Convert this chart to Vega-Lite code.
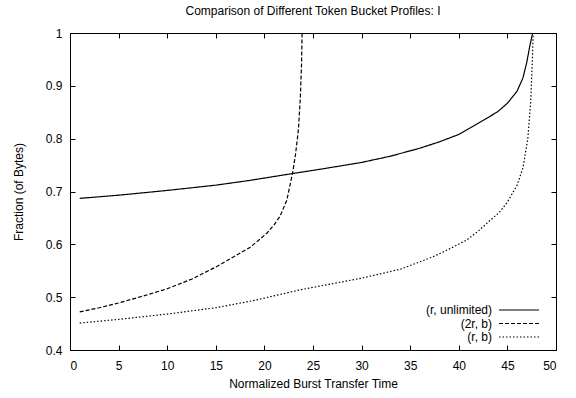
{
  "$schema": "https://vega.github.io/schema/vega-lite/v6.json",
  "width": 486,
  "height": 317,
  "autosize": {"type": "none"},
  "padding": {"left": 70, "top": 33, "right": 20, "bottom": 48},
  "title": {"text": "Comparison of Different Token Bucket Profiles: I", "fontSize": 12, "fontWeight": "normal", "font": "Liberation Sans", "offset": 9, "color": "#000"},
  "config": {
    "view": {"stroke": "#000", "strokeWidth": 1},
    "axis": {"grid": false, "labelFont": "Liberation Sans", "titleFont": "Liberation Sans", "labelFontSize": 12, "titleFontSize": 12, "titleFontWeight": "normal", "labelColor": "#000", "titleColor": "#000", "domainColor": "#000", "tickColor": "#000", "tickSize": -5, "labelPadding": 15},
    "legend": {"orient": "none", "legendX": 443, "legendY": 271, "symbolType": "M-4,0H4", "symbolSize": 100, "symbolStrokeWidth": 1.2, "symbolStrokeColor": "#000", "labelAlign": "right", "labelOffset": -33, "labelFont": "Liberation Sans", "labelFontSize": 12, "labelColor": "#000", "rowPadding": 1.5}
  },
  "data": {"values": [
    {"s": "(r, unlimited)", "x": 1, "y": 0.687},
    {"s": "(r, unlimited)", "x": 5, "y": 0.693},
    {"s": "(r, unlimited)", "x": 10, "y": 0.702},
    {"s": "(r, unlimited)", "x": 15, "y": 0.712},
    {"s": "(r, unlimited)", "x": 18.5, "y": 0.721},
    {"s": "(r, unlimited)", "x": 22.9, "y": 0.734},
    {"s": "(r, unlimited)", "x": 25.7, "y": 0.742},
    {"s": "(r, unlimited)", "x": 30, "y": 0.755},
    {"s": "(r, unlimited)", "x": 33, "y": 0.767},
    {"s": "(r, unlimited)", "x": 36, "y": 0.782},
    {"s": "(r, unlimited)", "x": 38, "y": 0.794},
    {"s": "(r, unlimited)", "x": 40, "y": 0.808},
    {"s": "(r, unlimited)", "x": 42, "y": 0.829},
    {"s": "(r, unlimited)", "x": 44, "y": 0.851},
    {"s": "(r, unlimited)", "x": 45, "y": 0.867},
    {"s": "(r, unlimited)", "x": 46, "y": 0.89},
    {"s": "(r, unlimited)", "x": 46.6, "y": 0.915},
    {"s": "(r, unlimited)", "x": 47, "y": 0.945},
    {"s": "(r, unlimited)", "x": 47.3, "y": 0.975},
    {"s": "(r, unlimited)", "x": 47.6, "y": 1.0},
    {"s": "(2r, b)", "x": 1, "y": 0.472},
    {"s": "(2r, b)", "x": 3, "y": 0.48},
    {"s": "(2r, b)", "x": 5, "y": 0.489},
    {"s": "(2r, b)", "x": 7.5, "y": 0.502},
    {"s": "(2r, b)", "x": 10, "y": 0.516},
    {"s": "(2r, b)", "x": 12.5, "y": 0.534},
    {"s": "(2r, b)", "x": 15, "y": 0.557},
    {"s": "(2r, b)", "x": 17, "y": 0.578},
    {"s": "(2r, b)", "x": 18.5, "y": 0.594},
    {"s": "(2r, b)", "x": 19.5, "y": 0.609},
    {"s": "(2r, b)", "x": 20.3, "y": 0.622},
    {"s": "(2r, b)", "x": 21, "y": 0.637},
    {"s": "(2r, b)", "x": 21.6, "y": 0.653},
    {"s": "(2r, b)", "x": 22.3, "y": 0.683},
    {"s": "(2r, b)", "x": 22.9, "y": 0.735},
    {"s": "(2r, b)", "x": 23.2, "y": 0.77},
    {"s": "(2r, b)", "x": 23.5, "y": 0.817},
    {"s": "(2r, b)", "x": 23.7, "y": 0.879},
    {"s": "(2r, b)", "x": 23.82, "y": 0.94},
    {"s": "(2r, b)", "x": 23.88, "y": 1.0},
    {"s": "(r, b)", "x": 1, "y": 0.451},
    {"s": "(r, b)", "x": 5, "y": 0.458},
    {"s": "(r, b)", "x": 10, "y": 0.468},
    {"s": "(r, b)", "x": 15, "y": 0.48},
    {"s": "(r, b)", "x": 19, "y": 0.494},
    {"s": "(r, b)", "x": 23.7, "y": 0.514},
    {"s": "(r, b)", "x": 30, "y": 0.536},
    {"s": "(r, b)", "x": 34, "y": 0.553},
    {"s": "(r, b)", "x": 37.3, "y": 0.576},
    {"s": "(r, b)", "x": 39, "y": 0.591},
    {"s": "(r, b)", "x": 40.8, "y": 0.608},
    {"s": "(r, b)", "x": 42, "y": 0.625},
    {"s": "(r, b)", "x": 43.2, "y": 0.645},
    {"s": "(r, b)", "x": 44.2, "y": 0.661},
    {"s": "(r, b)", "x": 45, "y": 0.68},
    {"s": "(r, b)", "x": 46, "y": 0.712},
    {"s": "(r, b)", "x": 46.6, "y": 0.745},
    {"s": "(r, b)", "x": 47.1, "y": 0.8},
    {"s": "(r, b)", "x": 47.4, "y": 0.87},
    {"s": "(r, b)", "x": 47.55, "y": 0.94},
    {"s": "(r, b)", "x": 47.65, "y": 1.0}
  ]},
  "layer": [
    {
      "mark": {"type": "line", "color": "#000", "strokeWidth": 1.2},
      "encoding": {
        "x": {"field": "x", "type": "quantitative", "scale": {"domain": [0, 50], "nice": false}, "axis": {"orient": "bottom", "values": [0,5,10,15,20,25,30,35,40,45,50], "title": "Normalized Burst Transfer Time", "labelPadding": 15, "titlePadding": 7}},
        "y": {"field": "y", "type": "quantitative", "scale": {"domain": [0.4, 1], "nice": false, "zero": false}, "axis": {"orient": "left", "values": [0.4,0.5,0.6,0.7,0.8,0.9,1], "format": "~g", "title": "Fraction (of Bytes)", "labelPadding": 13, "titlePadding": 20}},
        "strokeDash": {"field": "s", "type": "nominal", "scale": {"domain": ["(r, unlimited)", "(2r, b)", "(r, b)"], "range": [[1, 0], [4, 2], [1.5, 2]]}, "legend": {"title": null}}
      }
    },
    {
      "mark": {"type": "line", "opacity": 0},
      "encoding": {
        "x": {"field": "x", "type": "quantitative", "axis": {"orient": "top", "values": [0,5,10,15,20,25,30,35,40,45,50], "labels": false, "title": null}},
        "y": {"field": "y", "type": "quantitative", "axis": {"orient": "right", "values": [0.4,0.5,0.6,0.7,0.8,0.9,1], "labels": false, "title": null}}
      }
    }
  ],
  "resolve": {"axis": {"x": "independent", "y": "independent"}}
}
